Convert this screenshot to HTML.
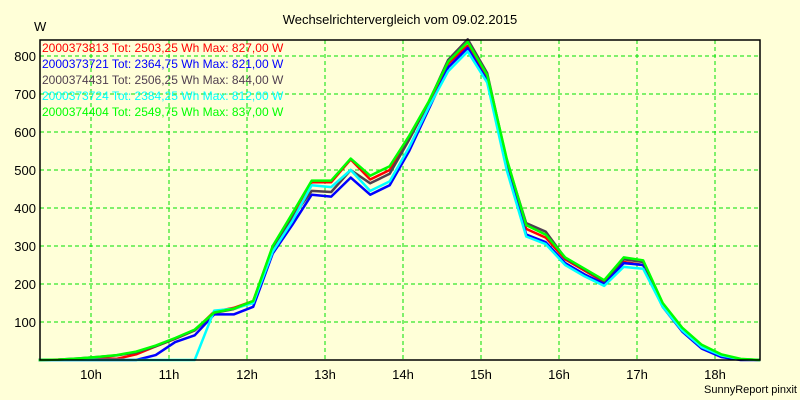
<!DOCTYPE html>
<html><head><meta charset="utf-8"><style>
body{margin:0;background:#ffffd8;}
svg{display:block;font-family:"Liberation Sans",sans-serif;}
</style></head><body>
<svg id="chart" width="800" height="400" viewBox="0 0 800 400">
<rect width="800" height="400" fill="#ffffd8"/>
<text x="400" y="24" text-anchor="middle" font-size="13" fill="#000">Wechselrichtervergleich vom 09.02.2015</text>
<text x="34" y="31" font-size="13" fill="#000">W</text>
<text x="797" y="393" text-anchor="end" font-size="11" fill="#000">SunnyReport pinxit</text>
<g id="grid"></g>
<g id="series"></g>
<g id="axes"></g>
<g id="legend"></g>
</svg>
<script>
const times=[9.33,9.58,9.83,10.08,10.33,10.58,10.83,11.08,11.33,11.58,11.83,12.08,12.33,12.58,12.83,13.08,13.33,13.58,13.83,14.08,14.33,14.58,14.83,15.08,15.33,15.58,15.83,16.08,16.33,16.58,16.83,17.08,17.33,17.58,17.83,18.08,18.33,18.58];
const redVals=[0,1,3,6,3,15,36,56,78,127,137,155,298,382,468,468,528,475,500,585,675,780,827,745,522,345,322,265,235,205,258,250,148,82,38,12,2,0];
const blueVals=[0,0,0,0,0,0,13,47,65,120,120,140,280,355,435,430,480,435,460,550,660,770,821,735,510,330,310,255,225,200,255,250,140,75,30,8,0,0];
const grayVals=[0,1,4,8,12,20,36,56,78,124,134,152,290,375,445,442,500,465,490,580,678,790,844,755,525,360,338,268,238,208,265,258,148,82,36,12,2,0];
const cyanVals=[0,0,0,0,0,0,0,0,0,130,135,150,285,365,460,455,500,445,470,560,665,760,812,730,500,325,305,250,220,195,245,240,140,78,34,12,2,0];
const greenVals=[0,1,4,8,13,22,38,58,80,125,135,155,300,385,472,472,530,485,510,590,680,785,837,750,530,355,330,270,240,210,270,262,150,85,40,15,3,0];
const seriesNames=["2000373813 Tot: 2503,25 Wh Max: 827,00 W","2000373721 Tot: 2364,75 Wh Max: 821,00 W","2000374431 Tot: 2506,25 Wh Max: 844,00 W","2000373724 Tot: 2384,25 Wh Max: 812,00 W","2000374404 Tot: 2549,75 Wh Max: 837,00 W"];
const yTicks=[100,200,300,400,500,600,700,800];
const xTicks=[10,11,12,13,14,15,16,17,18];

const NS="http://www.w3.org/2000/svg";
const L=40,R=760,T=40,B=360;
const xs=h=>91+(h-10)*78;
const ys=v=>B-v*0.38;
function mk(tag,attrs,parent){const e=document.createElementNS(NS,tag);for(const k in attrs)e.setAttribute(k,attrs[k]);parent.appendChild(e);return e;}
const grid=document.getElementById('grid'),axes=document.getElementById('axes'),ser=document.getElementById('series'),leg=document.getElementById('legend');
yTicks.forEach(v=>{
  const l=mk('line',{x1:L,x2:R,y1:ys(v),y2:ys(v),stroke:'#00e000','stroke-dasharray':'4,3','stroke-width':1},grid);
  
  
  const t=mk('text',{x:L-4,y:ys(v)+5,'text-anchor':'end','font-size':13},axes);
  t.textContent=v;
  
  
});
xTicks.forEach(h=>{
  const l=mk('line',{x1:xs(h),x2:xs(h),y1:T,y2:B,stroke:'#00e000','stroke-dasharray':'4,3','stroke-width':1},grid);
  
  
  const t=mk('text',{x:xs(h),y:379,'text-anchor':'middle','font-size':13},axes);
  t.textContent=h+'h';
  
  
});
const ax=mk('path',{d:`M${L},${T} L${R},${T} L${R},${B} L${L},${B} Z`,fill:'none',stroke:'#000','stroke-width':1.5},axes);


const all=[redVals,blueVals,grayVals,cyanVals,greenVals];
const colors=['#ff0000','#0000ff','#504050','#00ffff','#00ff00'];
const names=['red','blue','gray','cyan','green'];
all.forEach((vals,i)=>{
  const d=vals.map((v,j)=>(j?'L':'M')+xs(times[j]).toFixed(1)+','+ys(v).toFixed(1)).join(' ');
  const p=mk('path',{d:d,fill:'none',stroke:colors[i],'stroke-width':2.5,'stroke-linejoin':'round'},ser);
  
  
  const t=mk('text',{x:42,y:52+i*16,'font-size':12,fill:colors[i]},leg);
  t.textContent=seriesNames[i];
  
  
});
</script>
</body></html>
